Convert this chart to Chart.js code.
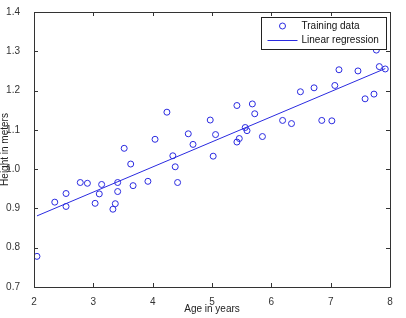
<!DOCTYPE html>
<html lang="en">
<head>
    <meta charset="UTF-8" />
    <title>Linear regression - height vs age</title>
    <script src="https://cdn.jsdelivr.net/npm/chart.js"></script>
    <style>
        html, body { margin: 0; padding: 0; background: #fff; }
        #wrap { width: 406px; height: 318px; }
    </style>
</head>
<body>
    <div id="wrap"><canvas id="fitChart"></canvas></div>
    <script>
        // training data
        const ageYears = [2.05, 2.35, 2.54, 2.54, 2.78, 2.90, 3.03, 3.10, 3.14, 3.33, 3.37, 3.41, 3.41,
            3.52, 3.63, 3.67, 3.92, 4.04, 4.24, 4.34, 4.38, 4.42, 4.60, 4.68, 4.97, 5.02, 5.06,
            5.42, 5.42, 5.46, 5.56, 5.59, 5.68, 5.72, 5.85, 6.19, 6.34, 6.49, 6.72, 6.85, 7.02,
            7.07, 7.14, 7.46, 7.58, 7.73, 7.77, 7.82, 7.92];
        const heightMeters = [0.778, 0.916, 0.938, 0.905, 0.966, 0.964, 0.913, 0.937, 0.961, 0.898, 0.912, 0.943, 0.966,
            1.053, 1.013, 0.958, 0.969, 1.076, 1.145, 1.034, 1.006, 0.966, 1.090, 1.063, 1.125, 1.033, 1.088,
            1.162, 1.069, 1.078, 1.106, 1.098, 1.166, 1.141, 1.083, 1.124, 1.116, 1.197, 1.207, 1.124, 1.123,
            1.213, 1.253, 1.250, 1.179, 1.191, 1.303, 1.261, 1.255];

        // fitted line end points
        const lineX = [2.05, 7.92];
        const lineY = [0.881, 1.256];

        const xTicks = [2, 3, 4, 5, 6, 7, 8];
        const yTicks = [0.7, 0.8, 0.9, 1.0, 1.1, 1.2, 1.3, 1.4];

        const blue = '#2a2ae0';
        const axisColor = '#333';
        const family = 'Liberation Sans, Arial, sans-serif';
        const font = { family: family, size: 10 };
        const tickFont = { family: '"Liberation Sans Narrow", "Liberation Sans", Arial, sans-serif', size: 10 };

        // matlab style box with inward ticks
        const boxTicks = {
            id: 'boxTicks',
            afterDraw(chart) {
                const { ctx, chartArea: a, scales } = chart;
                ctx.save();
                ctx.strokeStyle = axisColor;
                ctx.lineWidth = 1;
                ctx.beginPath();
                ctx.rect(a.left + 0.5, a.top + 0.5, a.right - a.left, a.bottom - a.top);
                xTicks.forEach(v => {
                    const px = Math.round(scales.x.getPixelForValue(v)) + 0.5;
                    ctx.moveTo(px, a.bottom); ctx.lineTo(px, a.bottom - 4);
                    ctx.moveTo(px, a.top); ctx.lineTo(px, a.top + 4);
                });
                yTicks.forEach(v => {
                    const py = Math.round(scales.y.getPixelForValue(v)) + 0.5;
                    ctx.moveTo(a.left, py); ctx.lineTo(a.left + 4, py);
                    ctx.moveTo(a.right, py); ctx.lineTo(a.right - 4, py);
                });
                ctx.stroke();
                ctx.restore();
            }
        };

        // legend box inside the plot, top right
        const insideLegend = {
            id: 'insideLegend',
            afterDraw(chart) {
                const { ctx, chartArea: a } = chart;
                const w = 125, h = 32;
                const x0 = a.right - w - 3.5, y0 = a.top + 5.5;
                ctx.save();
                ctx.fillStyle = '#fff';
                ctx.fillRect(x0, y0, w, h);
                ctx.strokeStyle = '#222';
                ctx.lineWidth = 1;
                ctx.strokeRect(x0, y0, w, h);
                ctx.strokeStyle = blue;
                ctx.beginPath();
                ctx.arc(x0 + 21, y0 + 8.5, 3, 0, Math.PI * 2);
                ctx.stroke();
                ctx.beginPath();
                ctx.moveTo(x0 + 6, y0 + 23);
                ctx.lineTo(x0 + 36, y0 + 23);
                ctx.stroke();
                ctx.fillStyle = '#111';
                ctx.font = '10px ' + family;
                ctx.textBaseline = 'middle';
                ctx.fillText('Training data', x0 + 40, y0 + 9);
                ctx.fillText('Linear regression', x0 + 40, y0 + 23);
                ctx.restore();
            }
        };

        const points = ageYears.map((a, i) => ({ x: a, y: heightMeters[i] }));
        const fitLine = lineX.map((a, i) => ({ x: a, y: lineY[i] }));

        new Chart(document.getElementById('fitChart'), {
            type: 'scatter',
            data: {
                datasets: [
                    {
                        label: 'Training data',
                        data: points,
                        pointStyle: 'circle',
                        pointRadius: 3,
                        pointBorderWidth: 1,
                        pointBorderColor: blue,
                        pointBackgroundColor: 'rgba(0,0,0,0)'
                    },
                    {
                        label: 'Linear regression',
                        data: fitLine,
                        showLine: true,
                        borderColor: blue,
                        borderWidth: 1,
                        pointRadius: 0
                    }
                ]
            },
            options: {
                responsive: true,
                maintainAspectRatio: false,
                animation: false,
                layout: { padding: { top: 7, right: 16, left: 0, bottom: 0 } },
                plugins: {
                    legend: { display: false },
                    tooltip: { enabled: false }
                },
                scales: {
                    x: {
                        type: 'linear',
                        min: 2,
                        max: 8,
                        afterBuildTicks: s => { s.ticks = xTicks.map(v => ({ value: v })); },
                        afterFit: s => { s.height = 31; },
                        grid: { display: false },
                        border: { display: false },
                        ticks: { color: axisColor, font: tickFont, padding: 1, maxRotation: 0 },
                        title: { display: true, text: 'Age in years', color: '#222', font: font, padding: { top: 0, bottom: 3 } }
                    },
                    y: {
                        type: 'linear',
                        min: 0.7,
                        max: 1.4,
                        afterBuildTicks: s => { s.ticks = yTicks.map(v => ({ value: v })); },
                        afterFit: s => { s.width = 34; },
                        grid: { display: false },
                        border: { display: false },
                        ticks: { color: axisColor, font: tickFont, padding: 6 },
                        title: { display: true, text: 'Height in meters', color: '#222', font: font, padding: { top: -1, bottom: 0 } }
                    }
                }
            },
            plugins: [boxTicks, insideLegend]
        });
    </script>
</body>
</html>
